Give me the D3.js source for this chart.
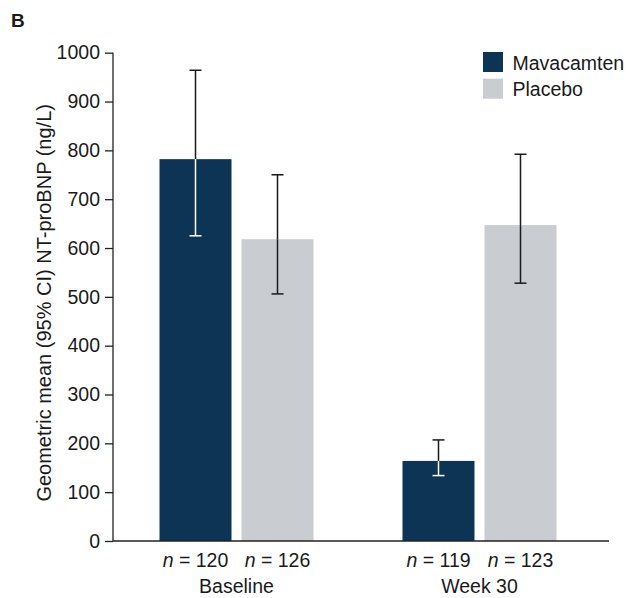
<!DOCTYPE html>
<html>
<head>
<meta charset="utf-8">
<script src="https://cdn.jsdelivr.net/npm/d3@7"></script>
<style>
  body { margin: 0; background: #fff; }
  svg text { font-family: "Liberation Sans", Arial, sans-serif; fill: #1a1a1a; }
</style>
</head>
<body>
<div id="chart"></div>
<script>
const timepoints = ["Baseline", "Week 30"];
const groups = ["Mavacamten", "Placebo"];
const means = [[782, 618], [164, 647]];
const lower = [[625, 506], [134, 528]];
const upper = [[964, 750], [207, 792]];
const counts = [[120, 126], [119, 123]];
const yTicks = [0, 100, 200, 300, 400, 500, 600, 700, 800, 900, 1000];

const width = 632, height = 598;
const colors = { Mavacamten: "#0e3455", Placebo: "#c9ccd0" };

const svg = d3.select("#chart").append("svg")
    .attr("width", width)
    .attr("height", height);

const y = d3.scaleLinear().domain([0, 1000]).range([541, 52.7]);

const x0 = d3.scaleBand().domain(timepoints).range([115, 601]).padding(0);
const groupW = 154;
const x1 = d3.scaleBand().domain(groups).range([0, groupW]).paddingInner(0.122).paddingOuter(0);

// panel letter
svg.append("text")
    .attr("x", 11).attr("y", 27)
    .style("font-size", "19px").style("font-weight", "bold")
    .text("B");

// y axis
const yAxis = d3.axisLeft(y).tickValues(yTicks).tickFormat(d3.format("d"))
    .tickSize(8).tickPadding(5).tickSizeOuter(0);
const gy = svg.append("g").attr("transform", "translate(113,0)").call(yAxis);
gy.select(".domain").remove();
gy.selectAll(".tick line").attr("stroke", "#222").attr("stroke-width", 1.3);
gy.selectAll(".tick text").style("font-size", "19.5px").attr("fill", "#1a1a1a");
svg.append("line")
    .attr("x1", 113).attr("x2", 113)
    .attr("y1", y(1000)).attr("y2", y(0))
    .attr("stroke", "#222").attr("stroke-width", 1.3);

// y title
svg.append("text")
    .attr("transform", "translate(51," + ((y(0) + y(1000)) / 2 + 6) + ") rotate(-90)")
    .attr("text-anchor", "middle")
    .style("font-size", "20px")
    .text("Geometric mean (95% CI) NT-proBNP (ng/L)");

// bars
const rows = [];
timepoints.forEach((t, i) => {
    groups.forEach((g, j) => {
        rows.push({ t: t, g: g, mean: means[i][j], lo: lower[i][j], hi: upper[i][j], n: counts[i][j] });
    });
});
const offset = (x0.bandwidth() - groupW) / 2;
const bx = d => x0(d.t) + offset + x1(d.g);

svg.selectAll("rect.bar").data(rows).enter().append("rect")
    .attr("class", "bar")
    .attr("x", d => bx(d))
    .attr("y", d => y(d.mean))
    .attr("width", x1.bandwidth())
    .attr("height", d => y(0) - y(d.mean))
    .attr("fill", d => colors[d.g]);

// x axis line
svg.append("line")
    .attr("x1", 113).attr("x2", 609)
    .attr("y1", y(0)).attr("y2", y(0))
    .attr("stroke", "#222").attr("stroke-width", 1.5);

// error bars: black above the bar, white inside dark bars
const cap = 6;
rows.forEach(d => {
    const cx = bx(d) + x1.bandwidth() / 2;
    const inner = d.g === "Mavacamten" ? "#fff" : "#1a1a1a";
    const segs = [
        { y1: y(d.hi), y2: y(d.mean), c: "#1a1a1a" },
        { y1: y(d.mean), y2: y(d.lo), c: inner }
    ];
    segs.forEach(s => {
        svg.append("line").attr("x1", cx).attr("x2", cx)
            .attr("y1", s.y1).attr("y2", s.y2)
            .attr("stroke", s.c).attr("stroke-width", 1.5);
    });
    svg.append("line").attr("x1", cx - cap).attr("x2", cx + cap)
        .attr("y1", y(d.hi)).attr("y2", y(d.hi))
        .attr("stroke", "#1a1a1a").attr("stroke-width", 1.5);
    svg.append("line").attr("x1", cx - cap).attr("x2", cx + cap)
        .attr("y1", y(d.lo)).attr("y2", y(d.lo))
        .attr("stroke", inner).attr("stroke-width", 1.5);
});

// n labels
rows.forEach(d => {
    const t = svg.append("text")
        .attr("x", bx(d) + x1.bandwidth() / 2)
        .attr("y", 567)
        .attr("text-anchor", "middle")
        .style("font-size", "19.5px");
    t.append("tspan").style("font-style", "italic").text("n");
    t.append("tspan").text(" = " + d.n);
});

// category labels
timepoints.forEach(t => {
    svg.append("text")
        .attr("x", x0(t) + x0.bandwidth() / 2)
        .attr("y", 593)
        .attr("text-anchor", "middle")
        .style("font-size", "19.5px")
        .text(t);
});

// legend
groups.forEach((g, i) => {
    svg.append("rect")
        .attr("x", 483).attr("y", 52 + i * 26.7)
        .attr("width", 20).attr("height", 20)
        .attr("fill", colors[g]);
    svg.append("text")
        .attr("x", 512.5).attr("y", 69.5 + i * 26.7)
        .style("font-size", "19.5px")
        .text(g);
});
</script>
</body>
</html>
